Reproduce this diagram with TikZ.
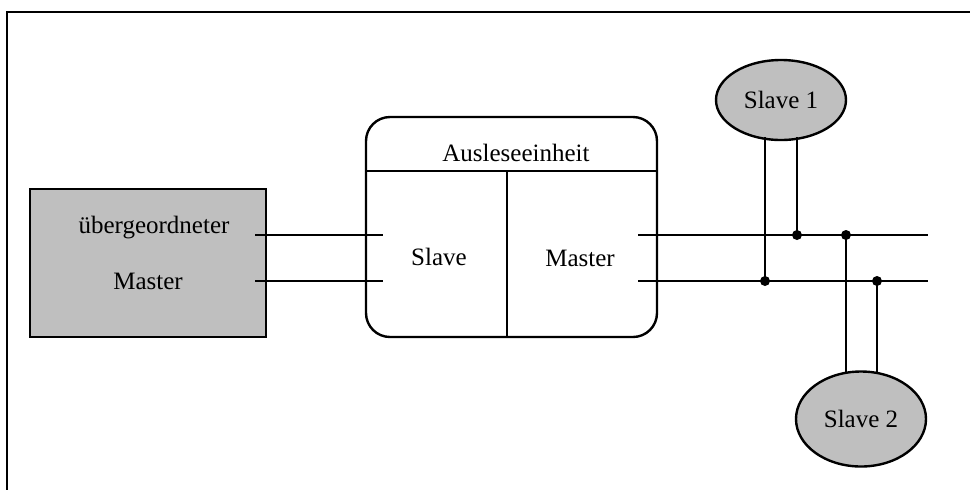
\documentclass[tikz,border=0pt]{standalone}
\usepackage{fontspec}
\setmainfont{Liberation Serif}
\usetikzlibrary{shapes.geometric}
\tikzset{
  label text/.style={font=\fontsize{12.5}{15}\selectfont, inner sep=0pt},
  graybox/.style={draw, fill=black!25, minimum width=118pt, minimum height=74pt},
  unitbox/.style={draw, rounded corners=12pt, minimum width=145.5pt, minimum height=110pt},
  slavenode/.style={draw, ellipse, fill=black!25, inner sep=0pt,
    font=\fontsize{12.5}{15}\selectfont},
  junction/.style={circle, fill, inner sep=0pt, minimum size=5pt},
}
\begin{document}
\begin{tikzpicture}[x=0.5pt, y=-0.5pt, line width=1.2pt]
  \clip (0,0) rectangle (970,489);
  % outer frame, cut off at the right and bottom
  \draw (7,500) -- (7,12) -- (980,12);

  % higher-level master
  \node[graybox] (master) at (148,263) {};
  \node[label text] (masterA) at (154,228) {übergeordneter};
  \node[label text] (masterB) at (148,281) {Master};

  % readout unit with slave and master side
  \node[unitbox] (unit) at (511.5,227) {};
  \coordinate (divL) at (366,171);
  \coordinate (divR) at (657,171);
  \coordinate (divT) at (507,171);
  \draw (divL) -- (divR);
  \draw (divT) -- (divT |- unit.south);
  \node[label text] (title) at (516,153) {Ausleseeinheit};
  \node[label text] (uslave) at (439,257) {Slave};
  \node[label text] (umaster) at (580,258) {Master};

  % bus between master and readout unit
  \coordinate (m1) at (255,235);
  \coordinate (m2) at (255,281);
  \coordinate (u1) at (383,235);
  \coordinate (u2) at (383,281);
  \draw (m1) -- (u1);
  \draw (m2) -- (u2);

  % bus to the slaves
  \coordinate (v1) at (638,235);
  \coordinate (v2) at (638,281);
  \coordinate (e1) at (928,235);
  \coordinate (e2) at (928,281);
  \draw (v1) -- (e1);
  \draw (v2) -- (e2);

  \node[slavenode, minimum width=65pt, minimum height=40pt] (s1) at (781,100) {Slave 1};
  \node[slavenode, minimum width=65pt, minimum height=47.5pt] (s2) at (861,419) {Slave 2};

  \node[junction] (j1) at (797,235) {};
  \node[junction] (j2) at (846,235) {};
  \node[junction] (j3) at (765,281) {};
  \node[junction] (j4) at (877,281) {};

  \draw (j3.center) -- ([yshift=2pt]j3 |- s1.south);
  \draw (j1.center) -- ([yshift=2pt]j1 |- s1.south);
  \draw (j2.center) -- ([yshift=-1pt]j2 |- s2.north);
  \draw (j4.center) -- ([yshift=-1pt]j4 |- s2.north);
\end{tikzpicture}
\end{document}
